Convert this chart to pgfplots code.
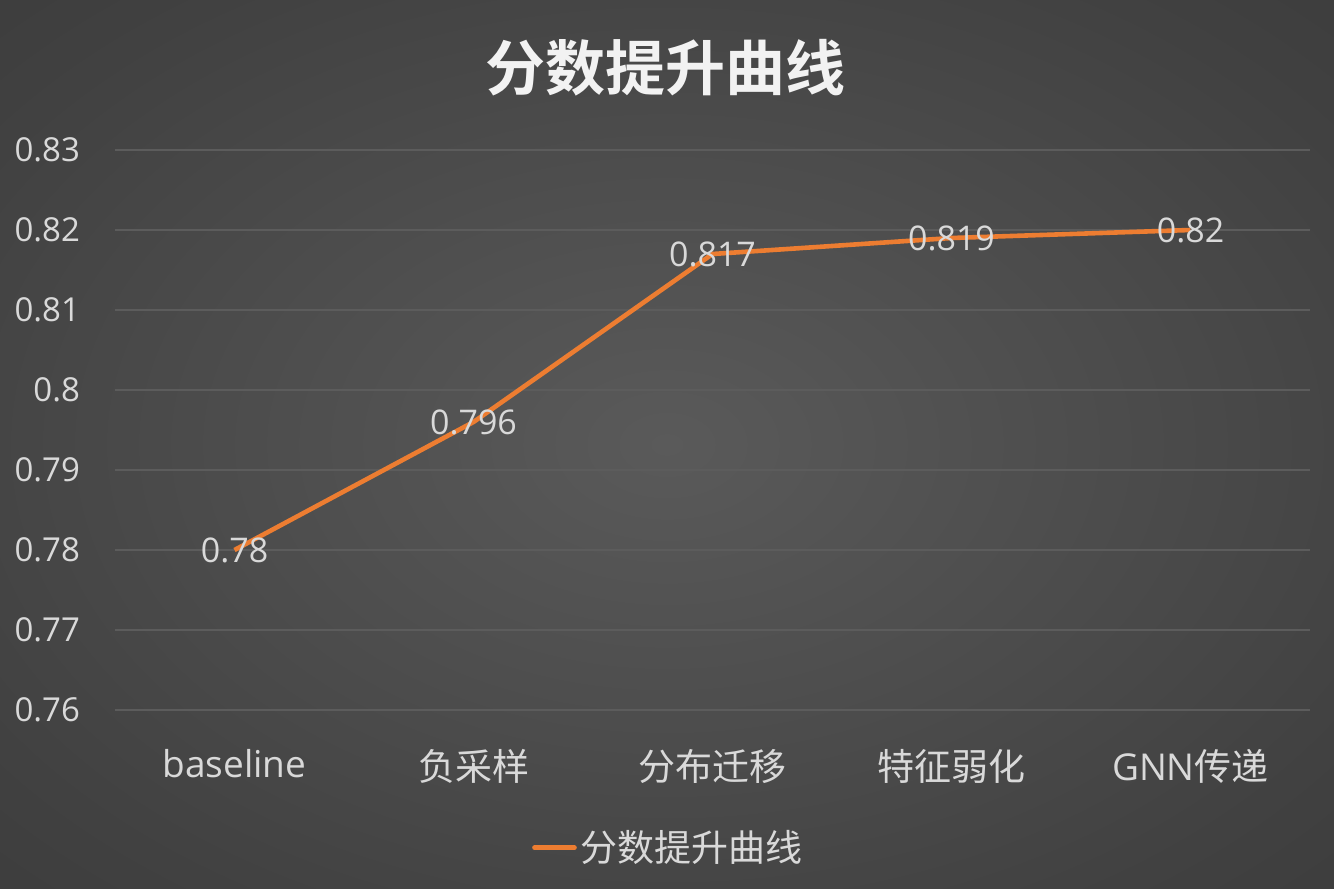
\documentclass[border=0pt]{standalone}
\usepackage{pgfplots}
\pgfplotsset{compat=1.18}
\usepackage{fontspec}
\setmainfont{Open Sans}
\newfontfamily\cjk{Noto Sans CJK SC}
\newfontfamily\cjkb{Noto Sans CJK SC Bold}
\definecolor{lineor}{HTML}{ED7D31}
\definecolor{txt}{HTML}{D9D9D9}
\definecolor{gridc}{HTML}{5C5C5C}
\definecolor{bgc}{HTML}{5A5A5A}
\definecolor{bgm}{HTML}{414141}
\definecolor{bgo}{HTML}{262626}
\pgfdeclareradialshading{bgshade}{\pgfpoint{0bp}{0bp}}{color(0bp)=(bgc); color(30bp)=(bgm); color(72bp)=(bgo)}
\begin{document}
\begin{tikzpicture}
\shade[shading=bgshade] (0,0) rectangle (667pt,444.5pt);
\useasboundingbox (0,0) rectangle (667pt,444.5pt);
\begin{axis}[
  at={(57.5pt,89.5pt)}, anchor=south west,
  scale only axis, width=597.5pt, height=280pt,
  xmin=-0.5, xmax=4.5, ymin=0.76, ymax=0.83,
  xtick={0,1,2,3,4},
  xticklabels={baseline,{\cjk 负采样},{\cjk 分布迁移},{\cjk 特征弱化},{GNN\cjk 传递}},
  ytick={0.76,0.77,0.78,0.79,0.80,0.81,0.82,0.83},
  yticklabels={0.76,0.77,0.78,0.79,0.8,0.81,0.82,0.83},
  axis line style={draw=none},
  major tick length=0pt,
  xmajorgrids=false, ymajorgrids=true,
  y grid style={draw=gridc, line width=0.6pt},
  tick label style={text=txt},
  yticklabel style={font=\fontsize{16.5}{18}\selectfont, xshift=-14pt},
  xticklabel style={font=\fontsize{18.5}{20}\selectfont, yshift=-16pt},
  title={\cjkb 分数提升曲线},
  title style={at={(0.461,1.125)}, anchor=center, font=\fontsize{30}{32}\selectfont, text=white!95!black},
  legend style={at={(0.464,-0.246)}, anchor=center, draw=none, fill=none, text=txt, font=\cjk\fontsize{18.5}{20}\selectfont, inner sep=0pt},
  legend image code/.code={\draw[line width=2.3pt, line cap=round, #1] (0pt,0pt) -- (20pt,0pt);},
  nodes near coords,
  every node near coord/.append style={anchor=center, text=txt, font=\fontsize{17}{18}\selectfont},
  point meta=explicit symbolic,
]
\addplot[lineor, line width=2.3pt, mark=none] coordinates {
  (0,0.780) [0.78]
  (1,0.796) [0.796]
  (2,0.817) [0.817]
  (3,0.819) [0.819]
  (4,0.820) [0.82]
};
\addlegendentry{分数提升曲线}
\end{axis}
\end{tikzpicture}
\end{document}
